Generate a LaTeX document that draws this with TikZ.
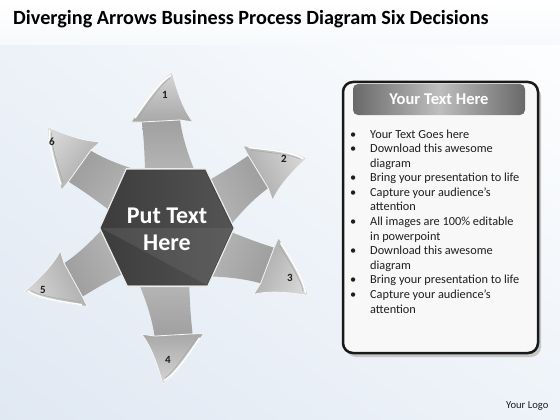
\documentclass[tikz,border=0pt]{standalone}
\usepackage{fontspec}
\setmainfont{Carlito}
\usetikzlibrary{shadings}
\definecolor{bgblue}{RGB}{224,232,242}
\definecolor{bgmid}{RGB}{238,243,249}
\definecolor{arrtop}{RGB}{160,160,160}
\definecolor{arrbot}{RGB}{198,198,198}
\definecolor{headc}{RGB}{214,214,214}
\definecolor{headd}{RGB}{168,168,168}
\definecolor{hexa}{RGB}{84,84,84}
\definecolor{hexb}{RGB}{60,60,60}
\definecolor{hdrdark}{RGB}{105,105,105}
\definecolor{hdrlight}{RGB}{190,190,190}
\definecolor{panelbg}{RGB}{248,248,248}
\definecolor{txt}{RGB}{30,30,30}
\tikzset{
  arrowbody/.style={top color=arrtop, bottom color=arrbot, shading angle=#1},
  arrowhead/.style={top color=headc, bottom color=headd, shading angle=#1, draw=white!92!gray, line width=0.8pt},
  rimline/.style={draw=white, line width=1.4pt},
  rimdark/.style={draw=gray!70, line width=0.5pt},
  numlabel/.style={font=\fontsize{11}{13}\selectfont\bfseries, text=txt, inner sep=0pt},
}
\begin{document}
\begin{tikzpicture}[x=1pt,y=-1pt]
\useasboundingbox (0,0) rectangle (560,420);
% background
\shade[upper left=bgmid, upper right=white, lower left=bgblue, lower right=bgmid] (0,0) rectangle (560,420);
\shade[top color=white, bottom color=white!50!bgmid] (0,0) rectangle (560,45);
% title
\node[anchor=base west, inner sep=0pt, font=\fontsize{20.2}{24}\selectfont\bfseries, text=black] (title) at (13,25) {Diverging Arrows Business Process Diagram Six Decisions};
% arrows
\foreach \r in {0,-61.6,-113.7,-179.7,115.8,51.5} {
  \begin{scope}[shift={(167,228)}, x=1pt, y=1pt, rotate=\r]
    \path[arrowbody=\r] (-24,15) -- (-22,60) .. controls (-23,85) .. (-25,106)
      -- (13,108) .. controls (17,80) and (28,55) .. (46,15) -- cycle;
    \path[arrowhead=\r] (-25,106) -- (-36,106) .. controls (-19,131) and (-6,149) .. (5,156)
      .. controls (9,141) and (15,120) .. (26,106) -- (13,108) -- cycle;
    \draw[rimline] (-32,110) .. controls (-17,132) and (-6,147) .. (4,153);
    \draw[rimdark] (-29,110) .. controls (-15,130) and (-5,145) .. (3,150);
  \end{scope}
}
% hexagon
\fill[black!8] (99,228) -- (126,168) -- (206,168) -- (235,228) -- (208,287) -- (127,287) -- cycle;
\shade[left color=hexb, right color=hexa, draw=black!75, line width=0.8pt] (101,228) -- (127,170) -- (205,170) -- (233,228) -- (207,285) -- (128,285) -- cycle;
\fill[hexa!85!white, opacity=0.35] (101,228) -- (233,228) -- (207,285) -- cycle;
\node[align=center, text=white, inner sep=0pt, font=\fontsize{24}{27}\selectfont\bfseries] (hex) at (167,229) {Put Text\\Here};
% numbers
\node[numlabel] (n1) at (165,95) {1};
\node[numlabel] (n2) at (284,159) {2};
\node[numlabel] (n3) at (290,278) {3};
\node[numlabel] (n4) at (168,360) {4};
\node[numlabel] (n5) at (43,290) {5};
\node[numlabel] (n6) at (52,142) {6};
% panel
\fill[black!22, rounded corners=10pt] (346,86) rectangle (541,357);
\draw[line width=2.5pt, draw=black!90, fill=panelbg, rounded corners=10pt] (343,82) rectangle (538,353);
\shade[rounded corners=5pt, left color=hdrdark, right color=hdrdark, middle color=hdrlight] (353,84) rectangle (525,115);
\node[text=white, inner sep=0pt, font=\fontsize{16.5}{20}\selectfont\bfseries] (hdr) at (439,99) {Your Text Here};
\node[anchor=base west, inner sep=0pt, text=txt, font=\fontsize{12.3}{14.6}\selectfont] (list) at (350,138) {%
\begin{tabular}[t]{@{}p{20pt}@{}l@{}}
\textbullet & Your Text Goes here\\
\textbullet & Download this awesome\\
 & diagram\\
\textbullet & Bring your presentation to life\\
\textbullet & Capture your audience’s\\
 & attention\\
\textbullet & All images are 100\% editable\\
 & in powerpoint\\
\textbullet & Download this awesome\\
 & diagram\\
\textbullet & Bring your presentation to life\\
\textbullet & Capture your audience’s\\
 & attention
\end{tabular}};
\node[anchor=base west, inner sep=0pt, text=txt, font=\fontsize{10.6}{12}\selectfont] (logo) at (506,408) {Your Logo};
\end{tikzpicture}
\end{document}
